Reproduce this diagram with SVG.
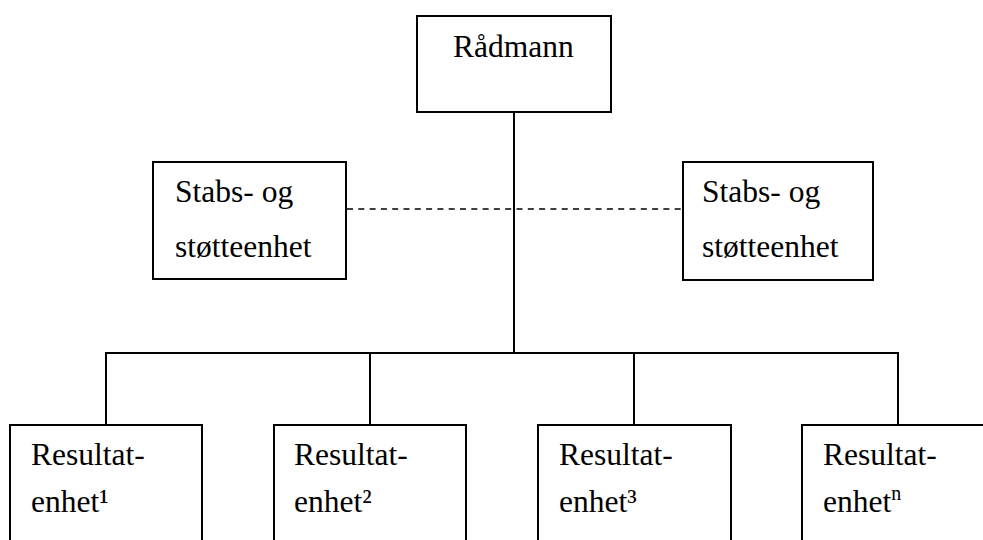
<svg xmlns="http://www.w3.org/2000/svg" width="983" height="540" viewBox="0 0 983 540">
<style>
.box{fill:#fff;stroke:#000;stroke-width:2}
.ln{fill:none;stroke:#000;stroke-width:2}
.dash{fill:none;stroke:#000;stroke-width:1.6;stroke-dasharray:6 5.3}
text{font-family:"Liberation Serif","Times New Roman",serif;font-size:31.5px;fill:#000}
.sup{font-size:20px}
</style>
<rect width="983" height="540" fill="#fff"/>
<g id="connectors">
<line class="ln" x1="514" y1="112" x2="514" y2="353"/>
<polyline class="ln" points="106,425 106,353 898,353 898,425"/>
<line class="ln" x1="370" y1="353" x2="370" y2="425"/>
<line class="ln" x1="634" y1="353" x2="634" y2="425"/>
<line class="dash" x1="347" y1="209" x2="683" y2="209"/>
</g>
<g id="radmann">
<rect class="box" x="417" y="16" width="194" height="96"/>
<text x="453" y="57">Rådmann</text>
</g>
<g id="stab-left">
<rect class="box" x="153" y="162" width="193" height="117"/>
<text x="175" y="202">Stabs- og</text>
<text x="175" y="257">støtteenhet</text>
</g>
<g id="stab-right">
<rect class="box" x="683" y="162" width="190" height="118"/>
<text x="702" y="202">Stabs- og</text>
<text x="702" y="257">støtteenhet</text>
</g>
<g id="res1">
<rect class="box" x="10" y="425" width="192" height="130"/>
<text x="31" y="465">Resultat-</text>
<text x="31" y="512">enhet¹</text>
</g>
<g id="res2">
<rect class="box" x="274" y="425" width="192" height="130"/>
<text x="294" y="465">Resultat-</text>
<text x="294" y="512">enhet²</text>
</g>
<g id="res3">
<rect class="box" x="538" y="425" width="193" height="130"/>
<text x="559" y="465">Resultat-</text>
<text x="559" y="512">enhet³</text>
</g>
<g id="resn">
<rect class="box" x="802" y="425" width="193" height="130"/>
<text x="823" y="465">Resultat-</text>
<text x="823" y="512">enhet<tspan class="sup" dy="-12">n</tspan></text>
</g>
</svg>
